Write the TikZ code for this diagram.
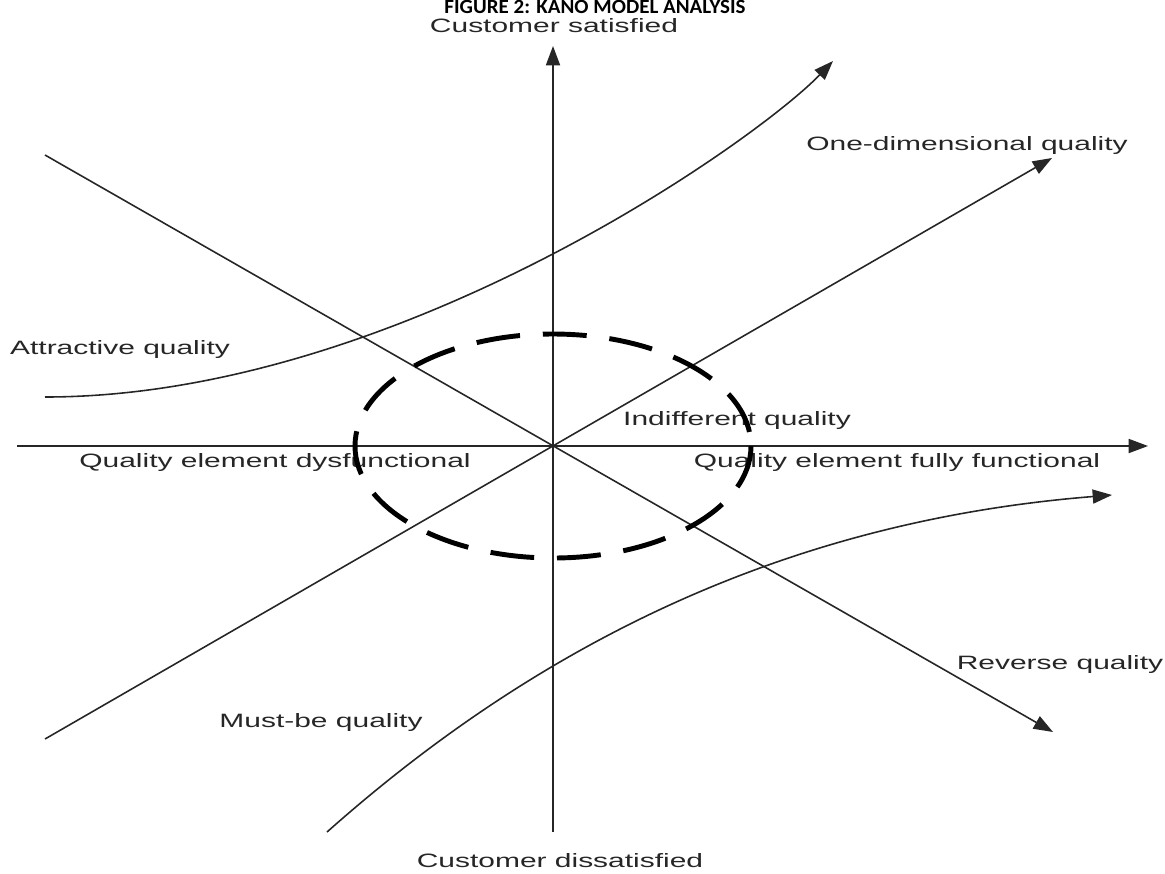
\documentclass[tikz,border=0pt]{standalone}
\usepackage{fontspec}
\newfontfamily\labfont[FakeStretch=1.55]{Liberation Sans}
\newfontfamily\titlefont[FakeStretch=1.04]{Carlito}
\usetikzlibrary{arrows.meta}
\begin{document}
\begin{tikzpicture}[x=0.02cm,y=-0.02cm,
  lab/.style={font=\labfont\fontsize{11}{13}\selectfont, inner sep=0pt, text=black!85},
  arr/.style={line width=0.9pt, draw=black!85, -{Triangle[length=11pt,width=8pt]}},
  dashring/.style={line width=2.8pt, dash pattern=on 25pt off 13pt, draw=black}]
\useasboundingbox (0,0) rectangle (1165,873);
\clip (0,0) rectangle (1165,873);
% title
\node[font=\titlefont\bfseries\fontsize{11.5}{13}\selectfont, anchor=base, inner sep=0pt] (title) at (595,13) {FIGURE 2: KANO MODEL ANALYSIS};
% coordinates
\coordinate (O) at (553,446);
\coordinate (vbot) at (553,832);
\coordinate (vtop) at (553,46);
\coordinate (hl) at (17,446);
\coordinate (hr) at (1148,446);
\coordinate (revs) at (45,155);
\coordinate (reve) at (1053,732);
\coordinate (ones) at (45,739);
\coordinate (onee) at (1052,158);
\coordinate (atts) at (45,397);
\coordinate (atte) at (833,61);
\coordinate (muss) at (327,832);
\coordinate (muse) at (1112,495);
% labels
\node[lab] (sat) at (554,26) {Customer satisfied};
\node[lab] (dis) at (560,861) {Customer dissatisfied};
\node[lab] (one) at (967,145) {One-dimensional quality};
\node[lab] (attr) at (120,349) {Attractive quality};
\node[lab] (ind) at (737,420) {Indifferent quality};
\node[lab] (dys) at (275,462) {Quality element dysfunctional};
\node[lab] (ful) at (897,462) {Quality element fully functional};
\node[lab] (rev) at (1060,664) {Reverse quality};
\node[lab] (must) at (321,722) {Must-be quality};
% axes
\draw[arr] (vbot) -- (vtop);
\draw[arr] (hl) -- (hr);
% straight lines
\draw[arr] (revs) -- (reve);
\draw[arr] (ones) -- (onee);
% curves
\draw[arr] (atts) .. controls (395,397) and (756,141) .. (atte);
\draw[arr] (muss) .. controls (560,625) and (812,519) .. (muse);
% indifferent zone
\draw[dashring] (O) ellipse [x radius=198, y radius=112];
\end{tikzpicture}
\end{document}
